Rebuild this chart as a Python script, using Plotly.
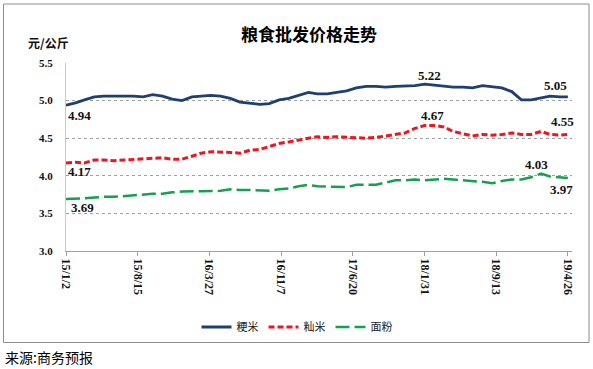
import plotly.graph_objects as go

# ---- data ----
dates = [
    "2015-01-02", "2015-02-01", "2015-03-01", "2015-04-01", "2015-05-01", "2015-06-01",
    "2015-07-01", "2015-08-01", "2015-09-01", "2015-10-01", "2015-11-01", "2015-12-01",
    "2016-01-01", "2016-02-01", "2016-03-01", "2016-04-01", "2016-05-01", "2016-06-01",
    "2016-07-01", "2016-08-01", "2016-09-01", "2016-10-01", "2016-11-01", "2016-12-01",
    "2017-01-01", "2017-02-01", "2017-03-01", "2017-04-01", "2017-05-01", "2017-06-01",
    "2017-07-01", "2017-08-01", "2017-09-01", "2017-10-01", "2017-11-01", "2017-12-01",
    "2018-01-01", "2018-02-01", "2018-03-01", "2018-04-01", "2018-05-01", "2018-06-01",
    "2018-07-01", "2018-08-01", "2018-09-01", "2018-10-01", "2018-11-01", "2018-12-01",
    "2019-01-01", "2019-02-01", "2019-03-01", "2019-04-01", "2019-04-26",
]
japonica = [
    4.94, 4.97, 5.01, 5.05, 5.06, 5.065, 5.06, 5.06, 5.05, 5.08, 5.06, 5.02,
    5.00, 5.05, 5.06, 5.07, 5.06, 5.03, 4.98, 4.96, 4.95, 4.96, 5.01, 5.03,
    5.07, 5.11, 5.09, 5.09, 5.11, 5.13, 5.17, 5.19, 5.19, 5.18, 5.19, 5.19,
    5.20, 5.22, 5.21, 5.20, 5.18, 5.18, 5.17, 5.20, 5.18, 5.17, 5.12, 5.01,
    5.01, 5.04, 5.06, 5.05, 5.05,
]
indica = [
    4.17, 4.18, 4.17, 4.21, 4.21, 4.20, 4.21, 4.22, 4.23, 4.24, 4.24, 4.22,
    4.22, 4.26, 4.30, 4.32, 4.32, 4.31, 4.30, 4.34, 4.35, 4.39, 4.43, 4.45,
    4.48, 4.50, 4.52, 4.51, 4.52, 4.51, 4.50, 4.50, 4.51, 4.53, 4.55, 4.57,
    4.63, 4.67, 4.67, 4.65, 4.59, 4.56, 4.53, 4.55, 4.54, 4.55, 4.57, 4.55,
    4.55, 4.59, 4.55, 4.54, 4.55,
]
flour = [
    3.69, 3.69, 3.70, 3.71, 3.72, 3.72, 3.73, 3.74, 3.75, 3.76, 3.76, 3.78,
    3.79, 3.79, 3.80, 3.79, 3.80, 3.82, 3.81, 3.81, 3.81, 3.80, 3.82, 3.83,
    3.86, 3.88, 3.86, 3.86, 3.86, 3.85, 3.88, 3.88, 3.88, 3.91, 3.94, 3.94,
    3.95, 3.94, 3.95, 3.96, 3.95, 3.94, 3.93, 3.92, 3.90, 3.93, 3.95, 3.95,
    3.98, 4.03, 3.99, 3.98, 3.97,
]
series_names = ["粳米", "籼米", "面粉"]
tick_dates = ["2015-01-02", "2015-08-15", "2016-03-27", "2016-11-07",
              "2017-06-20", "2018-01-31", "2018-09-13", "2019-04-26"]
tick_labels = ["15/1/2", "15/8/15", "16/3/27", "16/11/7",
               "17/6/20", "18/1/31", "18/9/13", "19/4/26"]
y_ticks = [3.0, 3.5, 4.0, 4.5, 5.0, 5.5]

# ---- figure ----
colors = ["#1F3E72", "#F0141E", "#14A050"]
dashes = ["solid", "6px,3px", "14px,5px"]
widths = [2.8, 3, 2.5]
fig = go.Figure()
for name, vals, c, d, w in zip(series_names, [japonica, indica, flour], colors, dashes, widths):
    fig.add_trace(go.Scatter(x=dates, y=vals, name=name, mode="lines",
                             line=dict(color=c, dash=d, width=w)))

lab_font = dict(family="Liberation Serif", size=13, color="#111111", weight="bold")

def label(series, idx, xanchor, yshift, xshift=0):
    fig.add_annotation(x=dates[idx], y=series[idx], text=f"{series[idx]:.2f}",
                       showarrow=False, xanchor=xanchor, yanchor="middle",
                       yshift=yshift, xshift=xshift, font=lab_font)

# start labels
label(japonica, 0, "left", -10, 0)
label(indica, 0, "left", -8, 0)
label(flour, 0, "left", -8, 3)
# peak labels
label(japonica, japonica.index(max(japonica)), "center", 9, 5)
label(indica, indica.index(max(indica)), "center", 10, 8)
label(flour, flour.index(max(flour)), "center", 9, -5)
# end labels
n = len(dates) - 1
label(japonica, n, "center", 11, -12)
label(indica, n, "center", 13, -5)
label(flour, n, "center", -11, -6)

W, H = 593, 369
L, R, T, B = 66, 21, 63, 118
pw, ph = W - L - R, H - T - B
def px(x):
    return (x - L) / pw
def py(y):
    return (H - B - y) / ph

fig.update_layout(
    width=W, height=H,
    margin=dict(l=L, r=R, t=T, b=B),
    paper_bgcolor="white", plot_bgcolor="white",
    showlegend=True,
    legend=dict(orientation="h", x=px(297), y=py(327), xanchor="center", yanchor="middle",
                font=dict(family="Noto Sans CJK SC", size=11, color="#222222"),
                itemwidth=30, tracegroupgap=0, bgcolor="rgba(0,0,0,0)"),
    xaxis=dict(type="date", range=["2015-01-02", "2019-05-09"],
               tickvals=tick_dates, ticktext=tick_labels, tickangle=90,
               showgrid=False, showline=True, linecolor="#A0A0A0", linewidth=1,
               ticks="outside", ticklen=4, tickcolor="#A0A0A0",
               tickfont=dict(family="Liberation Serif", size=12, color="#111111", weight="bold"),
               zeroline=False),
    yaxis=dict(range=[3.0, 5.5], tickvals=y_ticks, tickformat=".1f",
               showgrid=True, gridcolor="#A0A0A0", griddash="dot", gridwidth=1,
               showline=True, linecolor="#C8C8C8", linewidth=1,
               ticks="", ticklabelstandoff=10,
               tickfont=dict(family="Liberation Serif", size=11, color="#111111", weight="bold"),
               zeroline=False),
)

# title, unit, source
fig.add_annotation(xref="paper", yref="paper", x=px(309), y=py(33), text="粮食批发价格走势",
                   showarrow=False, xanchor="center", yanchor="middle",
                   font=dict(family="Noto Sans CJK SC", size=17, color="#000000", weight="bold"))
fig.add_annotation(xref="paper", yref="paper", x=px(26), y=py(43), text="元/公斤",
                   showarrow=False, xanchor="left", yanchor="middle",
                   font=dict(family="Noto Sans CJK SC", size=12, color="#111111", weight="bold"))
fig.add_annotation(xref="paper", yref="paper", x=px(3), y=py(357), text="来源:商务预报",
                   showarrow=False, xanchor="left", yanchor="middle",
                   font=dict(family="Noto Sans CJK SC", size=14, color="#000000"))
# outer frame
fig.add_shape(type="rect", xref="paper", yref="paper",
              x0=px(3.5), x1=px(589), y0=py(342.5), y1=py(4),
              line=dict(color="#8C8C8C", width=1), fillcolor="rgba(0,0,0,0)", layer="below")

fig.write_html("out.html", config={"displayModeBar": False},
               post_script="document.body.style.margin='0px';document.body.style.padding='0px';")
